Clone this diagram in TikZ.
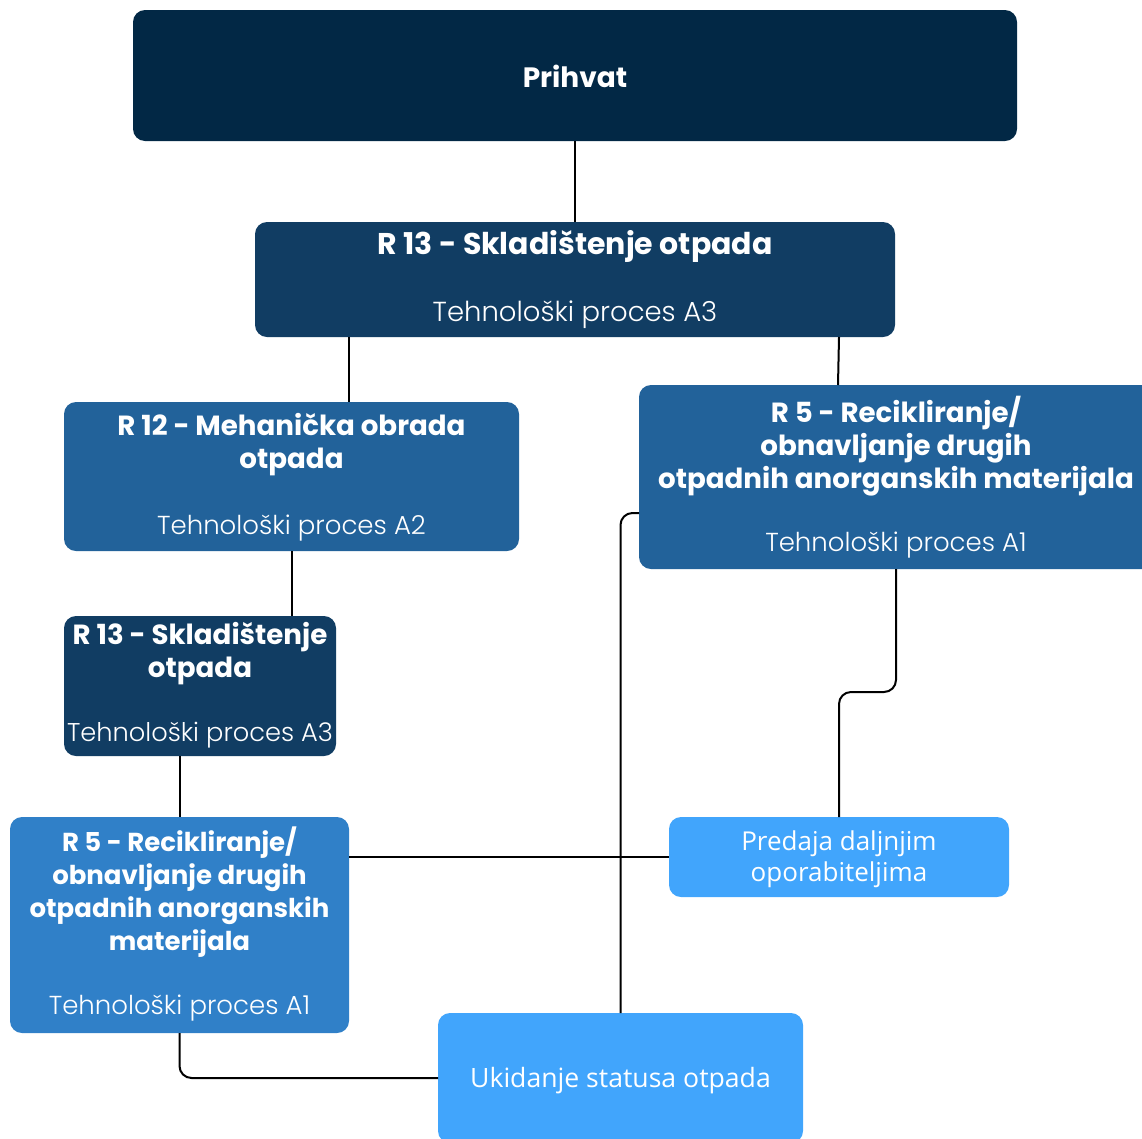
\documentclass[tikz,border=0pt]{standalone}
\usepackage{fontspec}
\setmainfont{Poppins}
\newfontfamily\titlefont{Poppins}[UprightFont=* Bold]
\newfontfamily\subfont{Poppins}[UprightFont=* Light]
\newfontfamily\plainfont{Open Sans}
\definecolor{cPrihvat}{HTML}{022845}
\definecolor{cStore}{HTML}{113D63}
\definecolor{cMid}{HTML}{22629A}
\definecolor{cRec}{HTML}{3080C8}
\definecolor{cLight}{HTML}{41A5FC}
\newcommand{\tsz}[1]{\titlefont\fontsize{#1}{33}\selectfont}
\newcommand{\ssz}[1]{\subfont\fontsize{#1}{33}\selectfont}
\begin{document}
\begin{tikzpicture}[x=1pt,y=-1pt,
  box/.style={rounded corners=12pt, inner sep=0pt, outer sep=0pt, anchor=north west},
  ttl/.style={text=white, font=\tsz{27.7}, align=center, inner sep=0pt},
  sub/.style={text=white, font=\ssz{26}, inner sep=0pt},
  pln/.style={text=white, font=\plainfont\fontsize{26}{31}\selectfont, align=center, inner sep=0pt},
  link/.style={line width=2pt, black, rounded corners=12pt}]
\useasboundingbox (0,0) rectangle (1142,1138);
\clip (0,0) rectangle (1142,1138);
% boxes
\node[box, fill=cPrihvat, minimum width=884pt, minimum height=131pt] (prihvat) at (133,10) {};
\node[box, fill=cStore, minimum width=640pt, minimum height=115pt] (r13a) at (255,222) {};
\node[box, fill=cMid, minimum width=455pt, minimum height=149pt] (r12) at (64,402) {};
\node[box, fill=cMid, minimum width=520pt, minimum height=184pt] (r5r) at (639,385) {};
\node[box, fill=cStore, minimum width=272pt, minimum height=140pt] (r13b) at (64,616) {};
\node[box, fill=cRec, minimum width=339pt, minimum height=216pt] (r5l) at (10,817) {};
\node[box, fill=cLight, minimum width=340pt, minimum height=80pt] (predaja) at (669,817) {};
\node[box, fill=cLight, minimum width=365pt, minimum height=130pt] (ukid) at (438,1013) {};
% texts
\node[ttl, font=\tsz{28}] (tPrihvat) at (575,76) {Prihvat};
\node[ttl, font=\tsz{30}] (t13a) at (575,246) {R 13 - Skladištenje otpada};
\node[sub, font=\ssz{27.5}] (s13a) at (575,315) {Tehnološki proces A3};
\node[ttl] (t12) at (291.5,445) {R 12 - Mehanička obrada\\otpada};
\node[sub] (s12) at (291.5,528) {Tehnološki proces A2};
\node[ttl] (t5r) at (896,446) {R 5 - Recikliranje/\\obnavljanje drugih\\otpadnih anorganskih materijala};
\node[sub] (s5r) at (896,545) {Tehnološki proces A1};
\node[ttl] (t13b) at (200,654) {R 13 - Skladištenje\\otpada};
\node[sub, font=\ssz{25.7}] (s13b) at (200,735) {Tehnološki proces A3};
\node[ttl, font=\tsz{26}] (t5l) at (179.5,892) {R 5 - Recikliranje/\\obnavljanje drugih\\otpadnih anorganskih\\materijala};
\node[sub] (s5l) at (179.5,1008) {Tehnološki proces A1};
\node[pln] (tpred) at (839,859.5) {Predaja daljnjim\\oporabiteljima};
\node[pln, font=\plainfont\fontsize{26.6}{31}\selectfont] (tukid) at (620.5,1081) {Ukidanje statusa otpada};
% connectors
\draw[link] (prihvat.south) -- (r13a.north);
\draw[link] (r13a.south -| 349,0) -- (r12.north -| 349,0);
\draw[link] (r13a.south -| 839,0) -- (r5r.north -| 838,0);
\draw[link] (r12.south) -- (r13b.north -| r12.south);
\draw[link] (r13b.south -| r5l.north) -- (r5l.north);
\draw[link] (r5l.east |- predaja.west) -- (predaja.west);
\draw[link] (r5r.south -| 896,0) -- (896,692) -| (predaja.north);
\draw[link] (r5r.west |- 0,513) -| (ukid.north);
\draw[link] (r5l.south) |- (ukid.west);
\end{tikzpicture}
\end{document}
